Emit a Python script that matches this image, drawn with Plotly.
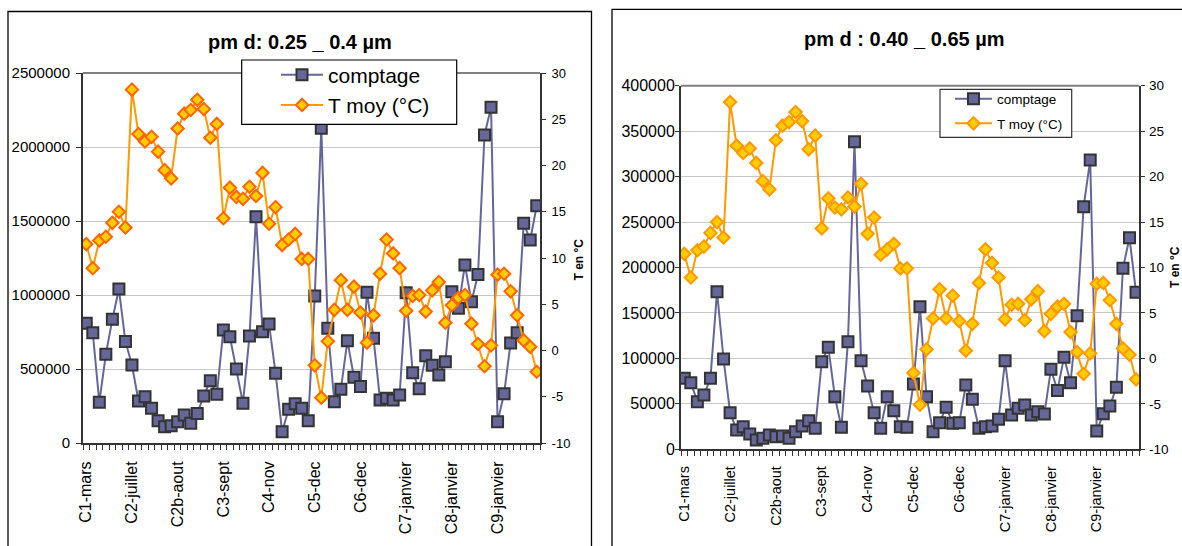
import plotly.graph_objects as go

# ---------------- data ----------------
cat_labels = ["C1-mars", "C2-juillet", "C2b-aout", "C3-sept", "C4-nov",
              "C5-dec", "C6-dec", "C7-janvier", "C8-janvier", "C9-janvier"]

t_moy = [11.5, 8.9, 11.9, 12.3, 13.8, 15.0, 13.3, 28.2, 23.4, 22.6,
         23.1, 21.5, 19.5, 18.6, 24.0, 25.6, 26.0, 27.1, 26.1, 23.0,
         24.5, 14.3, 17.6, 16.6, 16.4, 17.7, 16.7, 19.2, 13.7, 15.5,
         11.4, 12.0, 12.6, 9.9, 9.9, -1.6, -5.1, 1.0, 4.4, 7.6,
         4.4, 6.9, 4.1, 0.85, 3.8, 8.3, 12.0, 10.5, 8.9, 4.3,
         5.9, 6.0, 4.2, 6.5, 7.4, 3.0, 4.9, 5.7, 6.0, 2.9,
         0.7, -1.7, 0.55, 8.2, 8.3, 6.4, 3.8, 1.1, 0.4, -2.3]

comptage_025_04 = [809000, 745000, 275000, 599000, 836000, 1040000, 685000, 527000, 284000, 313000,
                   234000, 151000, 110000, 117000, 144000, 189000, 133000, 200000, 318000, 421000,
                   329000, 764000, 718000, 500000, 268000, 723000, 1529000, 752000, 804000, 471000,
                   76000, 228000, 265000, 234000, 151000, 993000, 2126000, 775000, 279000, 363000,
                   691000, 444000, 381000, 1018000, 707000, 291000, 302000, 291000, 324000, 1016000,
                   475000, 366000, 590000, 525000, 459000, 549000, 1022000, 910000, 1203000, 955000,
                   1138000, 2081000, 2268000, 144000, 333000, 676000, 745000, 1484000, 1372000, 1603000]

comptage_040_065 = [78100, 73300, 52400, 59700, 78100, 173400, 99300, 40300, 21200, 24900,
                    16800, 10200, 12100, 15700, 13900, 14600, 12100, 19400, 25600, 31500,
                    23100, 96400, 112200, 57900, 24200, 118400, 338400, 97500, 69600, 40300,
                    23100, 57900, 42500, 24900, 24200, 71800, 156900, 57900, 19400, 29300,
                    46200, 28600, 29300, 70700, 55000, 23100, 24900, 25600, 33000, 97500,
                    37700, 45100, 48700, 37700, 41400, 38800, 88000, 64800, 101200, 73300,
                    146800, 266900, 318300, 20000, 39200, 47600, 68200, 199100, 232800, 172700]

temp_tickvals = [-10, -5, 0, 5, 10, 15, 20, 25, 30]
temp_ticktext = ["-10", "-5", "0", "5", "10", "15", "20", "25", "30"]

# ---------------- layout helpers ----------------
W, H = 1182, 546
FONT = "Liberation Sans, Arial, sans-serif"


def fx(p):
    return p / W


def fy(p):
    return 1 - p / H


n = len(t_moy)
idx = list(range(n))
step = n // len(cat_labels)
cat_tickvals = [i * step for i in range(len(cat_labels))]

BLUE_LINE = "#666699"
BLUE_FILL = "#666699"
BLUE_EDGE = "#333333"
ORANGE_LINE = "#FF9900"
YELLOW_FILL = "#FFCC00"
AXIS = "#333333"
GRID = "#c8c8c8"

fig = go.Figure()

# left panel
fig.add_trace(go.Scatter(
    x=idx, y=comptage_025_04, xaxis="x", yaxis="y", mode="lines+markers",
    name="comptage", legend="legend",
    line=dict(color=BLUE_LINE, width=2),
    marker=dict(symbol="square", size=11, color=BLUE_FILL, line=dict(color=BLUE_EDGE, width=2))))
fig.add_trace(go.Scatter(
    x=idx, y=t_moy, xaxis="x", yaxis="y2", mode="lines+markers",
    name="T moy (°C)", legend="legend",
    line=dict(color=ORANGE_LINE, width=2),
    marker=dict(symbol="diamond", size=9.5, color=YELLOW_FILL, line=dict(color="#FF6600", width=2))))

# right panel
fig.add_trace(go.Scatter(
    x=idx, y=comptage_040_065, xaxis="x2", yaxis="y3", mode="lines+markers",
    name="comptage", legend="legend2", legendgroup="c2",
    line=dict(color=BLUE_LINE, width=2),
    marker=dict(symbol="square", size=11, color=BLUE_FILL, line=dict(color=BLUE_EDGE, width=2))))
fig.add_trace(go.Scatter(
    x=idx, y=t_moy, xaxis="x2", yaxis="y4", mode="lines+markers",
    name="T moy (°C)", legend="legend2", legendgroup="t2",
    line=dict(color=ORANGE_LINE, width=2),
    marker=dict(symbol="diamond", size=9.5, color=YELLOW_FILL, line=dict(color="#FF9900", width=2))))


def xaxis_cfg(domain, anchor, fsize, standoff):
    return dict(
        domain=domain, anchor=anchor, range=[-0.5, n - 0.5], automargin=False,
        tickmode="array", tickvals=cat_tickvals, ticktext=cat_labels,
        tickangle=-90, ticks="", ticklabelstandoff=standoff,
        tickfont=dict(size=fsize, color="black", family=FONT),
        showline=True, linecolor=AXIS, linewidth=2,
        showgrid=False, zeroline=False, fixedrange=True,
        minor=dict(tickmode="linear", tick0=-0.5, dtick=1, ticks="outside",
                   ticklen=5, tickwidth=1, tickcolor=AXIS, showgrid=False),
    )


def left_y_cfg(domain, anchor, rng, dtick, fsize, ticklen, standoff):
    return dict(
        domain=domain, anchor=anchor, range=rng, dtick=dtick, tick0=0, automargin=False,
        tickformat="d", ticks="outside", ticklen=ticklen, tickcolor=AXIS, tickwidth=1,
        ticklabelstandoff=standoff,
        tickfont=dict(size=fsize, color="black", family=FONT),
        showline=True, linecolor=AXIS, linewidth=2,
        showgrid=True, gridcolor=GRID, gridwidth=1, zeroline=False,
    )


def right_y_cfg(overlay, anchor, fsize, standoff):
    return dict(
        overlaying=overlay, anchor=anchor, side="right", range=[-10, 30], automargin=False,
        tickmode="array", tickvals=temp_tickvals, ticktext=temp_ticktext,
        ticks="outside", ticklen=4, tickcolor=AXIS, tickwidth=1,
        ticklabelstandoff=standoff,
        tickfont=dict(size=fsize, color="black", family=FONT),
        showline=True, linecolor=AXIS, linewidth=2,
        showgrid=False, zeroline=False,
    )


def inner_tick_cfg(overlay, anchor):
    # inside half of the "cross" tick marks on the temperature axis
    return dict(
        overlaying=overlay, anchor=anchor, side="right", range=[-10, 30], automargin=False,
        tickmode="array", tickvals=temp_tickvals, showticklabels=False,
        ticks="inside", ticklen=4, tickcolor=AXIS, tickwidth=1,
        showline=False, showgrid=False, zeroline=False,
    )


L_dom_x = [fx(83), fx(540)]
L_dom_y = [fy(443), fy(73)]
R_dom_x = [fx(681), fx(1139.3)]
R_dom_y = [fy(449.3), fy(85.7)]

fig.update_layout(
    width=W, height=H, autosize=False,
    margin=dict(l=0, r=0, t=0, b=0, pad=0, autoexpand=False),
    paper_bgcolor="white", plot_bgcolor="white",
    font=dict(family=FONT, color="black"),
    xaxis=xaxis_cfg(L_dom_x, "y", 16, 10),
    yaxis=left_y_cfg(L_dom_y, "x", [0, 2500000], 500000, 15, 5, 3),
    yaxis2=right_y_cfg("y", "x", 13, 3),
    xaxis2=xaxis_cfg(R_dom_x, "y3", 14.5, 9),
    yaxis3=left_y_cfg(R_dom_y, "x2", [0, 400000], 50000, 16, 4, -3),
    yaxis4=right_y_cfg("y3", "x2", 13.5, 1),
    yaxis5=inner_tick_cfg("y", "x"),
    yaxis6=inner_tick_cfg("y3", "x2"),
    legend=dict(x=fx(276), y=fy(54.5), xanchor="left", yanchor="top",
                bgcolor="rgba(0,0,0,0)", borderwidth=0,
                font=dict(size=21, family=FONT, color="black"),
                itemwidth=42, tracegroupgap=0),
    legend2=dict(x=fx(950), y=fy(83.5), xanchor="left", yanchor="top",
                 bgcolor="rgba(0,0,0,0)", borderwidth=0,
                 font=dict(size=13.5, family=FONT, color="black"),
                 itemwidth=37, tracegroupgap=4),
    showlegend=True,
    shapes=[
        # chart-area frames
        dict(type="rect", xref="paper", yref="paper", x0=fx(8), x1=fx(591.5),
             y0=fy(560), y1=fy(11.5), line=dict(color="black", width=1.3),
             fillcolor="rgba(0,0,0,0)", layer="above"),
        dict(type="rect", xref="paper", yref="paper", x0=fx(612), x1=fx(1200),
             y0=fy(560), y1=fy(9.3), line=dict(color="black", width=1.3),
             fillcolor="rgba(0,0,0,0)", layer="above"),
        # plot-area top borders
        dict(type="line", xref="x domain", yref="y domain", x0=0, x1=1, y0=1, y1=1,
             line=dict(color="#808080", width=2), layer="below"),
        dict(type="line", xref="x2 domain", yref="y3 domain", x0=0, x1=1, y0=1, y1=1,
             line=dict(color="#808080", width=2), layer="below"),
        # legend boxes
        dict(type="rect", xref="paper", yref="paper", x0=fx(241.7), x1=fx(456.7),
             y0=fy(124.3), y1=fy(60), line=dict(color="black", width=1.2),
             fillcolor="white", layer="above"),
        dict(type="rect", xref="paper", yref="paper", x0=fx(940), x1=fx(1071.7),
             y0=fy(137.3), y1=fy(89.3), line=dict(color="#333333", width=1.2),
             fillcolor="white", layer="above"),
    ],
    annotations=[
        dict(text="<b>pm d: 0.25 _ 0.4 µm</b>", xref="paper", yref="paper",
             x=fx(300), y=fy(42), xanchor="center", yanchor="middle", showarrow=False,
             font=dict(size=20, family=FONT, color="black")),
        dict(text="<b>pm d : 0.40 _ 0.65 µm</b>", xref="paper", yref="paper",
             x=fx(904), y=fy(39.5), xanchor="center", yanchor="middle", showarrow=False,
             font=dict(size=20, family=FONT, color="black")),
        dict(text="<b>T en °C</b>", xref="paper", yref="paper",
             x=fx(578), y=fy(259.5), xanchor="center", yanchor="middle", showarrow=False,
             textangle=-90, font=dict(size=12, family=FONT, color="black")),
        dict(text="<b>T en °C</b>", xref="paper", yref="paper",
             x=fx(1175), y=fy(267), xanchor="center", yanchor="middle", showarrow=False,
             textangle=-90, font=dict(size=12, family=FONT, color="black")),
    ],
)

fig.write_html("out.html")
